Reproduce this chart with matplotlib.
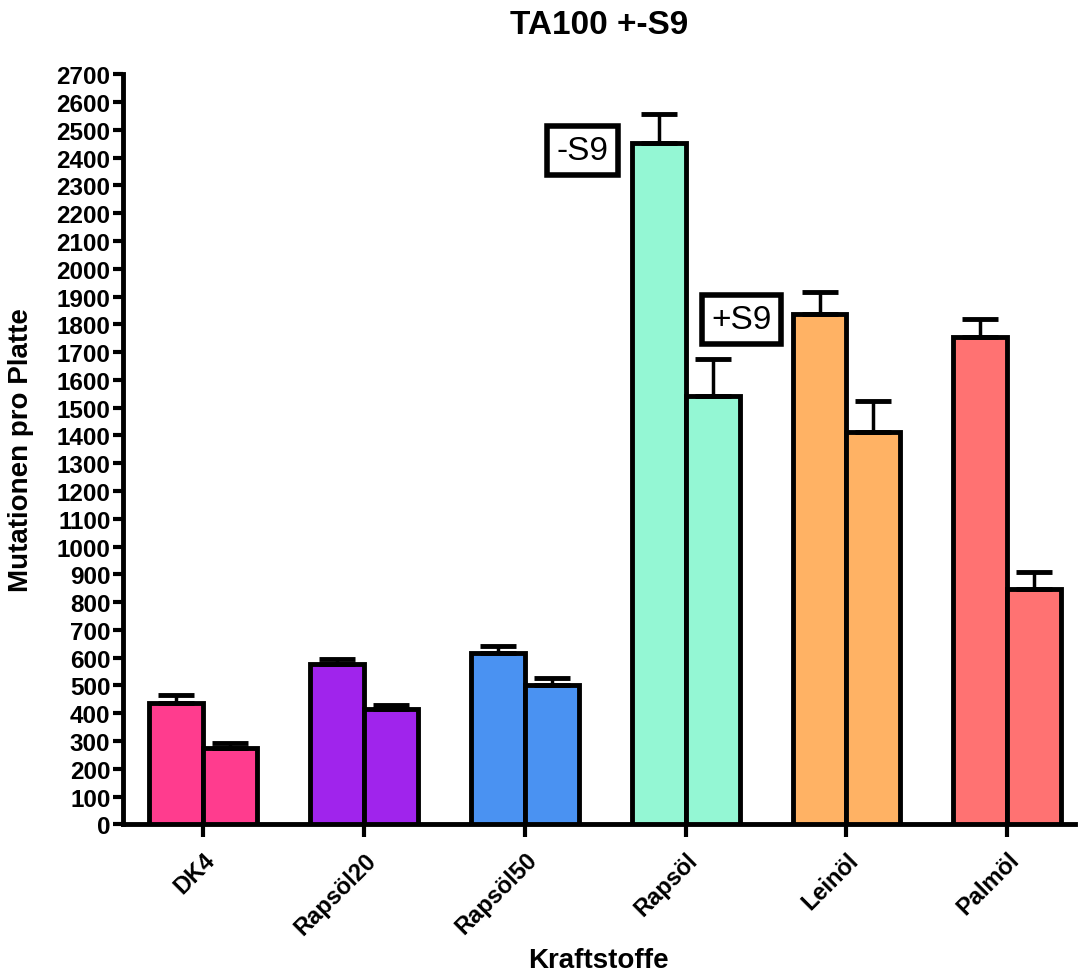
import matplotlib
matplotlib.use("Agg")
from matplotlib import pyplot as plt
import numpy as np

plt.rcParams['font.family'] = ['Liberation Sans', 'DejaVu Sans']

categories = ['DK4', 'Rapsöl20', 'Rapsöl50', 'Rapsöl', 'Leinöl', 'Palmöl']
minus_s9 = [438, 576, 616, 2454, 1838, 1756]
minus_s9_err = [27, 20, 26, 102, 80, 64]
plus_s9 = [276, 414, 501, 1542, 1413, 846]
plus_s9_err = [15, 17, 26, 134, 110, 62]
colors = ['#FF3C8E', '#A024EC', '#4A92F2', '#94F7D4', '#FFB264', '#FF7272']
yticks = list(range(0, 2701, 100))

fig = plt.figure(figsize=(10.78, 9.79), dpi=100)
ax = fig.add_axes([0.114, 0.157, 0.883, 0.766])

x = np.arange(len(categories))
w = 0.335
err_kw = dict(elinewidth=2.5, capthick=3.5, capsize=13, ecolor='black')
ax.bar(x - w / 2, minus_s9, w, color=colors, edgecolor='black', linewidth=3.5,
       yerr=[np.zeros(len(x)), minus_s9_err], error_kw=err_kw, zorder=3)
ax.bar(x + w / 2, plus_s9, w, color=colors, edgecolor='black', linewidth=3.5,
       yerr=[np.zeros(len(x)), plus_s9_err], error_kw=err_kw, zorder=3)

ax.set_xlim(-0.5, 5.42)
ax.set_ylim(0, 2700)
ax.set_yticks(yticks)
ax.set_yticklabels([str(t) for t in yticks], fontsize=17.5, fontweight='bold')
ax.set_xticks(x)
ax.set_xticklabels(categories, fontsize=17, fontweight='bold',
                   rotation=45, ha='right', rotation_mode='anchor')

for s in ['top', 'right']:
    ax.spines[s].set_visible(False)
for s in ['left', 'bottom']:
    ax.spines[s].set_linewidth(3.5)
ax.tick_params(axis='y', length=7, width=3, pad=2)
ax.tick_params(axis='x', length=9, width=3, pad=8)

ax.set_title('TA100 +-S9', fontsize=24, fontweight='bold', pad=30)
ax.set_ylabel('Mutationen pro Platte', fontsize=20, fontweight='bold')
ax.yaxis.set_label_coords(-0.093, 0.5)
ax.set_xlabel('Kraftstoffe', fontsize=20, fontweight='bold', labelpad=6)

box = dict(boxstyle='square,pad=0.28', facecolor='white', edgecolor='black', linewidth=4)
ax.text(2.36, 2426, '-S9', fontsize=24, ha='center', va='center', bbox=box, zorder=5)
ax.text(3.35, 1818, '+S9', fontsize=24, ha='center', va='center', bbox=box, zorder=5)

fig.savefig('out.png', dpi=100)
